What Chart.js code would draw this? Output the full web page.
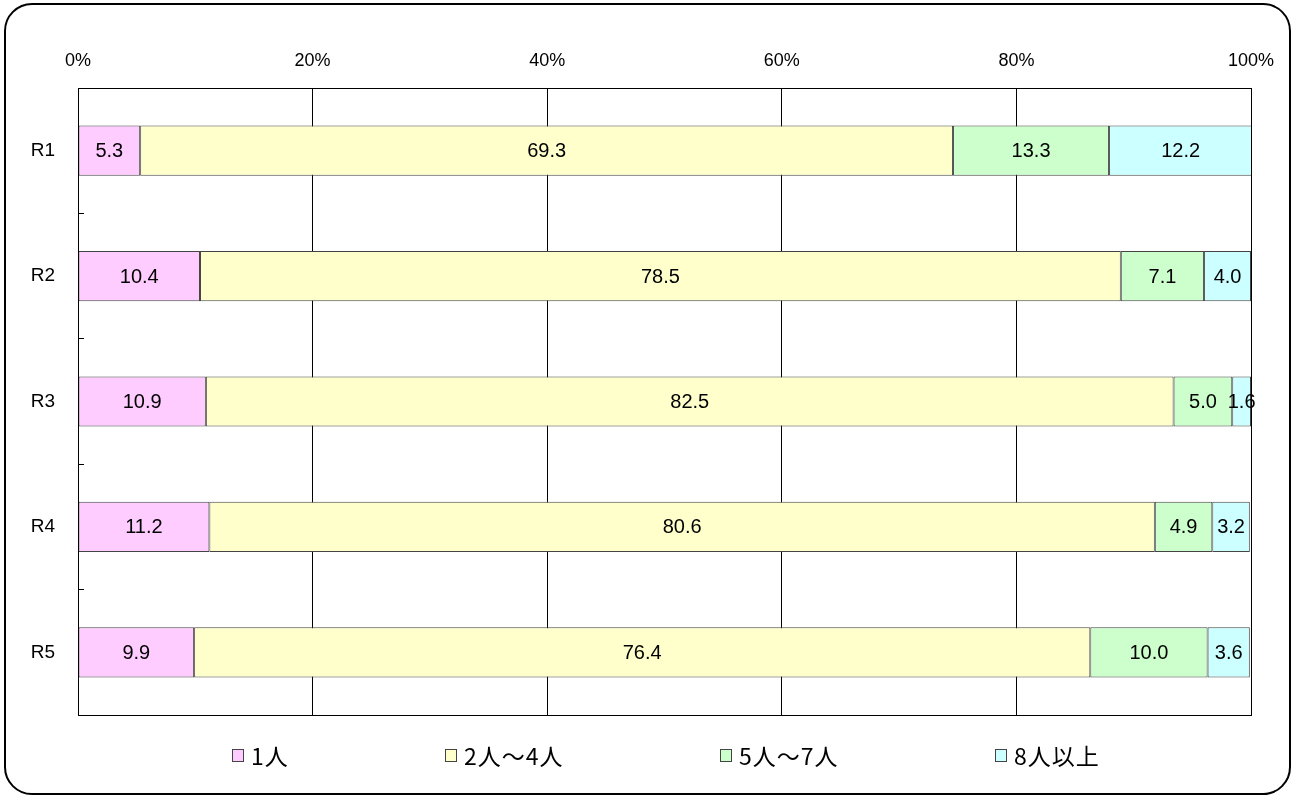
<!DOCTYPE html>
<html>
<head>
<meta charset="utf-8">
<script src="https://cdn.jsdelivr.net/npm/chart.js@4"></script>
<style>
  html, body { margin: 0; padding: 0; background: #fff; }
  #wrap { position: relative; width: 1293px; height: 796px; }
  #frame {
    position: absolute; left: 4px; top: 3px; width: 1283px; height: 788px;
    border: 2px solid #000; border-radius: 28px; pointer-events: none;
  }
  canvas { position: absolute; left: 0; top: 0; }
</style>
</head>
<body>
<div id="wrap">
  <canvas id="chart" width="1293" height="796"></canvas>
  <div id="frame"></div>
</div>
<script>
// データ
const categories = ['R1', 'R2', 'R3', 'R4', 'R5'];
const seriesNames = ['1人', '2人～4人', '5人～7人', '8人以上'];
const oneP    = [5.3, 10.4, 10.9, 11.2, 9.9];
const twoFour = [69.3, 78.5, 82.5, 80.6, 76.4];
const fiveSev = [13.3, 7.1, 5.0, 4.9, 10.0];
const eightUp = [12.2, 4.0, 1.6, 3.2, 3.6];
const xTicks  = [0, 20, 40, 60, 80, 100];

const colors = ['#FFCCFF', '#FFFFCC', '#CCFFCC', '#CCFFFF'];
const FONT = "'Liberation Sans', 'Noto Sans CJK JP', sans-serif";
const JP_FONT = "'Noto Sans CJK JP', sans-serif";

// 棒の中に値を表示
const valueLabels = {
  id: 'valueLabels',
  afterDatasetsDraw(chart) {
    const ctx = chart.ctx;
    ctx.save();
    ctx.font = '20px ' + FONT;
    ctx.fillStyle = '#000';
    ctx.textAlign = 'center';
    ctx.textBaseline = 'middle';
    chart.data.datasets.forEach((ds, i) => {
      const meta = chart.getDatasetMeta(i);
      meta.data.forEach((bar, j) => {
        const cx = (bar.x + bar.base) / 2;
        ctx.fillText(ds.data[j].toFixed(1), cx, bar.y + 1);
      });
    });
    ctx.restore();
  }
};

// プロットエリアの枠
const plotFrame = {
  id: 'plotFrame',
  afterDraw(chart) {
    const a = chart.chartArea;
    const ctx = chart.ctx;
    ctx.save();
    ctx.strokeStyle = '#000';
    ctx.lineWidth = 1;
    ctx.strokeRect(Math.round(a.left) + 0.5, Math.round(a.top) + 0.5,
      Math.round(a.right - a.left), Math.round(a.bottom - a.top));
    ctx.restore();
  }
};

// 凡例 (下に並べる)
const legendX = [232, 445, 720, 995];
const bottomLegend = {
  id: 'bottomLegend',
  afterDraw(chart) {
    const ctx = chart.ctx;
    ctx.save();
    ctx.font = '23px ' + JP_FONT;
    ctx.textBaseline = 'middle';
    ctx.textAlign = 'left';
    if ('letterSpacing' in ctx) ctx.letterSpacing = '1px';
    chart.data.datasets.forEach((ds, i) => {
      const x = legendX[i], y = 755;
      ctx.fillStyle = ds.backgroundColor;
      ctx.fillRect(x, y - 6, 11, 12);
      ctx.strokeStyle = '#444';
      ctx.lineWidth = 1;
      ctx.strokeRect(x + 0.5, y - 5.5, 11, 12);
      ctx.fillStyle = '#000';
      ctx.fillText(ds.label, x + 19, y + 1);
    });
    ctx.restore();
  }
};

const seriesData = [oneP, twoFour, fiveSev, eightUp];

new Chart(document.getElementById('chart').getContext('2d'), {
  type: 'bar',
  data: {
    labels: categories,
    datasets: seriesNames.map((name, i) => ({
      label: name,
      data: seriesData[i],
      backgroundColor: colors[i],
      borderColor: '#444',
      borderWidth: 1,
      borderSkipped: false,
      barPercentage: 0.4,
      categoryPercentage: 1.0
    }))
  },
  options: {
    indexAxis: 'y',
    responsive: false,
    animation: false,
    layout: { padding: { left: 0, right: 42, top: 0, bottom: 81 } },
    scales: {
      x: {
        position: 'top',
        stacked: true,
        min: 0,
        max: 100,
        afterBuildTicks(scale) { scale.ticks = xTicks.map(v => ({ value: v })); },
        afterFit(scale) { scale.height = 88; },
        grid: { color: '#000', lineWidth: 1, drawTicks: false },
        border: { color: '#000', width: 1 },
        ticks: {
          padding: 16,
          color: '#000',
          font: { family: FONT, size: 18 },
          maxRotation: 0,
          callback: v => v + '%'
        }
      },
      y: {
        stacked: true,
        afterFit(scale) { scale.width = 78; },
        grid: {
          offset: true,
          drawOnChartArea: false,
          tickColor: c => (c.index > 0 && c.index < categories.length ? '#000' : 'rgba(0,0,0,0)'),
          tickLength: -6
        },
        border: { color: '#000', width: 1 },
        ticks: {
          padding: 29,
          color: '#000',
          font: { family: FONT, size: 19 }
        }
      }
    },
    plugins: {
      legend: { display: false },
      tooltip: { enabled: false }
    }
  },
  plugins: [valueLabels, plotFrame, bottomLegend]
});
</script>
</body>
</html>
